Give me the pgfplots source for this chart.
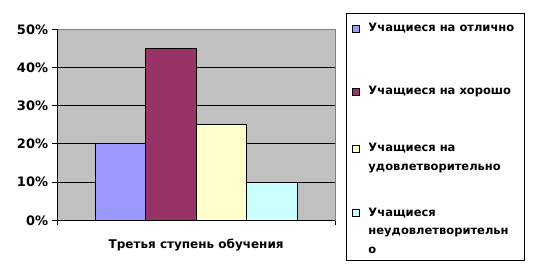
\documentclass[border=0pt]{standalone}
\usepackage{pgfplots}
\pgfplotsset{compat=1.18}
\usepackage{fontspec}
\setmainfont{DejaVu Sans}
\definecolor{barA}{HTML}{9999FF}
\definecolor{barB}{HTML}{993366}
\definecolor{barC}{HTML}{FFFFCC}
\definecolor{barD}{HTML}{CCFFFF}
\definecolor{plotbg}{HTML}{C0C0C0}
\definecolor{plotborder}{HTML}{808080}
\newcommand\lgtext[2]{\parbox[t][#1][t]{150bp}{\fontsize{11.5bp}{18.5bp}\selectfont\bfseries\raggedright\rule{0pt}{9bp}#2}}
\begin{document}
\begin{tikzpicture}
\begin{axis}[
  at={(57.3bp,54.7bp)}, anchor=south west,
  scale only axis, width=277.7bp, height=191bp,
  xmin=-1, xmax=1, ymin=0, ymax=50,
  ybar=0pt, bar width=50.5bp,
  clip=false,
  axis background/.style={fill=plotbg},
  axis line style={draw=plotborder, line width=1bp},
  xtick={-1,1}, xticklabels={,},
  ytick={0,10,20,30,40,50},
  yticklabel={\pgfmathprintnumber{\tick}\%},
  /pgf/number format/assume math mode=true,
  xtick pos=bottom, ytick pos=left,
  tick align=outside, major tick length=5bp,
  tick style={black, line width=1bp},
  ymajorgrids, grid style={black, line width=1bp},
  yticklabel style={font=\fontsize{13bp}{15bp}\selectfont\bfseries, anchor=east, inner sep=0pt, xshift=-4bp},
  xlabel={Третья ступень обучения},
  xlabel style={font=\fontsize{12bp}{14bp}\selectfont\bfseries, at={(axis description cs:0.5,0)}, anchor=base, yshift=-28.4bp, inner sep=0pt},
  legend style={at={(axis description cs:1.0396,1.0853)}, anchor=north west,
    draw=black, line width=1bp, fill=white,
    inner xsep=6bp, inner ysep=9bp,
    nodes={inner sep=0pt, text depth={}, anchor=base west},
    cells={anchor=base west},
    column sep=8bp, row sep=0pt},
  legend image code/.code={\draw[#1, draw=black, line width=1bp] (0bp,-0.5bp) rectangle (7bp,6.5bp);},
]
\addplot[fill=barA, draw=black, line width=1bp] coordinates {(0,20)};
\addplot[fill=barB, draw=black, line width=1bp] coordinates {(0,45)};
\addplot[fill=barC, draw=black, line width=1bp] coordinates {(0,25)};
\addplot[fill=barD, draw=black, line width=1bp] coordinates {(0,10)};
\addlegendentry{\lgtext{63bp}{Учащиеся на отлично}}
\addlegendentry{\lgtext{57bp}{Учащиеся на хорошо}}
\addlegendentry{\lgtext{64.5bp}{Учащиеся на\\удовлетворительно}}
\addlegendentry{\lgtext{44bp}{Учащиеся\\неудовлетворительн\\о}}
\draw[black, line width=1bp] (rel axis cs:0,1) -- (rel axis cs:0,0) -- (rel axis cs:1,0);
\end{axis}
\pgfresetboundingbox
\path (0,0) rectangle (533bp,275bp);
\end{tikzpicture}
\end{document}
